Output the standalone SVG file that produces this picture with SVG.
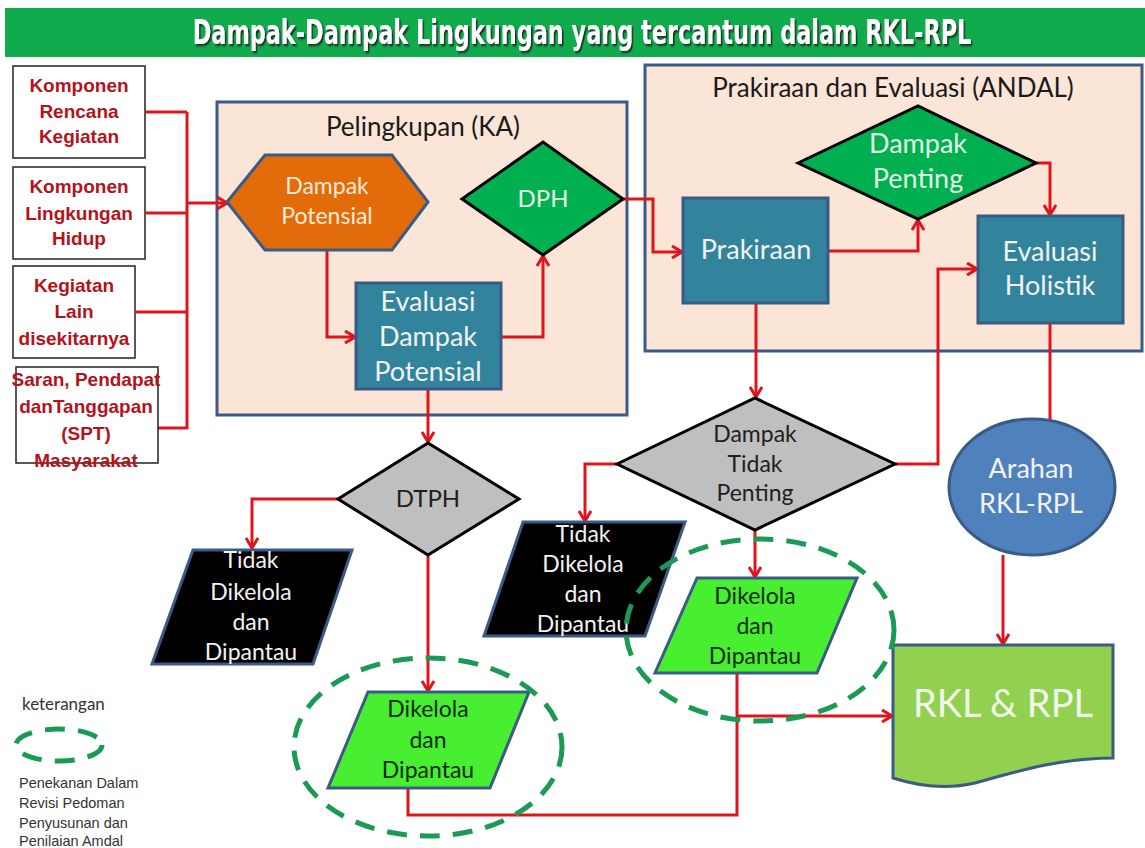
<svg xmlns="http://www.w3.org/2000/svg" width="1145" height="848" viewBox="0 0 1145 848">
<defs>
<marker id="arr" viewBox="0 0 12 14" refX="11" refY="7" markerWidth="12" markerHeight="14" markerUnits="userSpaceOnUse" orient="auto">
<path d="M1,1 L11,7 L1,13" fill="none" stroke="#e0151c" stroke-width="3" stroke-linejoin="miter"/>
</marker>
<filter id="shadow" x="-5%" y="-30%" width="110%" height="160%">
<feDropShadow dx="2" dy="2" stdDeviation="0.8" flood-color="#1e1e1e" flood-opacity="0.9"/>
</filter>
<style>
.bg{fill:#ffffff}
.lbox{fill:#ffffff;stroke:#222;stroke-width:1.5}
.ltxt{font-family:"Liberation Sans",Arial,sans-serif;font-weight:bold;font-size:19px;fill:#b5121b;text-anchor:middle}
.sect{fill:#fbe5d6;stroke:#3b5a85;stroke-width:3}
.stitle{font-family:Lato,"Open Sans",sans-serif;font-size:26px;fill:#1a1a1a;text-anchor:middle}
.teal{fill:#31849b;stroke:#3b5a85;stroke-width:3}
.t{font-family:Lato,"Open Sans",sans-serif;font-size:24px;text-anchor:middle}
.s23{font-size:23px}
.s27{font-size:27px}
.w{fill:#f2f2f2}
.dk{fill:#1e1e1e}
.gdk{fill:#0e2a0e}
.con{fill:none;stroke:#e0151c;stroke-width:3}
.dash{fill:none;stroke:#1a9a55;stroke-width:5;stroke-dasharray:20 13}
.blk{fill:#000;stroke:#3b5a85;stroke-width:3}
.brg{fill:#48ee30;stroke:#3b5a85;stroke-width:3}
.gry{fill:#bfbfbf;stroke:#000;stroke-width:3}
.leg{font-family:"Liberation Sans",Arial,sans-serif;font-size:14.5px;fill:#333}
</style>
</defs>
<rect class="bg" x="0" y="0" width="1145" height="848"/>

<g id="title">
<rect x="5" y="8" width="1140" height="49" fill="#10ab4c"/>
<text transform="translate(582,44) scale(0.755,1)" x="0" y="0" text-anchor="middle" font-family="'Liberation Sans Narrow','DejaVu Sans Condensed',sans-serif" font-weight="bold" font-size="33" fill="#ffffff" filter="url(#shadow)">Dampak-Dampak Lingkungan yang tercantum dalam RKL-RPL</text>
</g>

<g id="sect-ka">
<rect class="sect" x="217" y="102" width="410" height="313"/>
<text class="stitle" x="423" y="136">Pelingkupan (KA)</text>
</g>
<g id="sect-andal">
<rect class="sect" x="645" y="65" width="497" height="286"/>
<text class="stitle" x="893" y="97">Prakiraan dan Evaluasi (ANDAL)</text>
</g>

<g id="connectors">
<path class="con" d="M146,112 H187"/>
<path class="con" d="M146,213 H187"/>
<path class="con" d="M136,312 H187"/>
<path class="con" d="M158,428 H187"/>
<path class="con" d="M187,112 V429"/>
<path class="con" d="M187,203 H227" marker-end="url(#arr)"/>
<path class="con" d="M327,250 V337 H355" marker-end="url(#arr)"/>
<path class="con" d="M501,337 H543 V256" marker-end="url(#arr)"/>
<path class="con" d="M623,199 H653 V252 H682" marker-end="url(#arr)"/>
<path class="con" d="M828,251 H918 V220" marker-end="url(#arr)"/>
<path class="con" d="M1036,163 H1050 V215" marker-end="url(#arr)"/>
<path class="con" d="M756,303 V397" marker-end="url(#arr)"/>
<path class="con" d="M895,464 H938 V269 H977" marker-end="url(#arr)"/>
<path class="con" d="M1050,323 V420"/>
<path class="con" d="M1003,555 V644" marker-end="url(#arr)"/>
<path class="con" d="M428,389 V442" marker-end="url(#arr)"/>
<path class="con" d="M338,499 H252 V548" marker-end="url(#arr)"/>
<path class="con" d="M428,555 V691" marker-end="url(#arr)"/>
<path class="con" d="M617,464 H585 V521" marker-end="url(#arr)"/>
<path class="con" d="M755,530 V577" marker-end="url(#arr)"/>
<path class="con" d="M408,788 V815 H737 V673"/>
<path class="con" d="M737,716 H892" marker-end="url(#arr)"/>
</g>

<g id="n-komponen-rencana">
<rect class="lbox" x="13" y="66" width="132" height="92"/>
<text class="ltxt" x="79" y="92">Komponen</text>
<text class="ltxt" x="79" y="118">Rencana</text>
<text class="ltxt" x="79" y="143">Kegiatan</text>
</g>
<g id="n-komponen-lingkungan">
<rect class="lbox" x="13" y="167" width="132" height="92"/>
<text class="ltxt" x="79" y="193">Komponen</text>
<text class="ltxt" x="79" y="220">Lingkungan</text>
<text class="ltxt" x="79" y="245">Hidup</text>
</g>
<g id="n-kegiatan-lain">
<rect class="lbox" x="13" y="266" width="122" height="92"/>
<text class="ltxt" x="74" y="292">Kegiatan</text>
<text class="ltxt" x="74" y="318">Lain</text>
<text class="ltxt" x="74" y="345">disekitarnya</text>
</g>
<g id="n-spt">
<rect class="lbox" x="16" y="367" width="142" height="96"/>
<text class="ltxt" x="86" y="386">Saran, Pendapat</text>
<text class="ltxt" x="86" y="413">danTanggapan</text>
<text class="ltxt" x="86" y="440">(SPT)</text>
<text class="ltxt" x="86" y="467">Masyarakat</text>
</g>

<g id="n-dampak-potensial">
<polygon points="227,202 265,155 392,155 428,202 392,250 265,250" fill="#e36c0a" stroke="#3b5a85" stroke-width="3"/>
<text class="t s23" x="327" y="194" fill="#fde9d9">Dampak</text>
<text class="t s23" x="327" y="224" fill="#fde9d9">Potensial</text>
</g>
<g id="n-dph">
<polygon points="462,199 543,142 623,199 543,255" fill="#00b050" stroke="#000" stroke-width="3"/>
<text class="t" x="543" y="207" fill="#e6f6e6">DPH</text>
</g>
<g id="n-evaluasi-dampak-potensial">
<rect class="teal" x="356" y="283" width="145" height="106"/>
<text class="t s27 w" x="428" y="311">Evaluasi</text>
<text class="t s27 w" x="428" y="346">Dampak</text>
<text class="t s27 w" x="428" y="381">Potensial</text>
</g>
<g id="n-prakiraan">
<rect class="teal" x="683" y="198" width="145" height="105"/>
<text class="t s27 w" x="756" y="259">Prakiraan</text>
</g>
<g id="n-dampak-penting">
<polygon points="798,163 918,106 1036,163 918,219" fill="#00b050" stroke="#000" stroke-width="3"/>
<text class="t s27" x="918" y="153" fill="#e6f6e6">Dampak</text>
<text class="t s27" x="918" y="188" fill="#e6f6e6">Penting</text>
</g>
<g id="n-evaluasi-holistik">
<rect class="teal" x="978" y="216" width="145" height="107"/>
<text class="t s27 w" x="1050" y="261">Evaluasi</text>
<text class="t s27 w" x="1050" y="295">Holistik</text>
</g>
<g id="n-dtph">
<polygon points="338,499 428,443 519,499 428,555" class="gry"/>
<text class="t dk" x="428" y="507">DTPH</text>
</g>
<g id="n-dampak-tidak-penting">
<polygon points="617,464 755,398 895,464 755,530" class="gry"/>
<text class="t s23 dk" x="755" y="442">Dampak</text>
<text class="t s23 dk" x="755" y="472">Tidak</text>
<text class="t s23 dk" x="755" y="501">Penting</text>
</g>
<g id="n-tidak-1">
<polygon points="193,550 352,550 313,664 152,664" class="blk"/>
<text class="t s23 w" x="251" y="568">Tidak</text>
<text class="t s23 w" x="251" y="600">Dikelola</text>
<text class="t s23 w" x="251" y="630">dan</text>
<text class="t s23 w" x="251" y="660">Dipantau</text>
</g>
<g id="n-dikelola-1">
<polygon points="368,692 529,692 490,788 328,788" class="brg"/>
<text class="t s23 gdk" x="428" y="717">Dikelola</text>
<text class="t s23 gdk" x="428" y="748">dan</text>
<text class="t s23 gdk" x="428" y="778">Dipantau</text>
</g>
<g id="n-tidak-2">
<polygon points="523,522 685,522 645,636 484,636" class="blk"/>
<text class="t s23 w" x="583" y="542">Tidak</text>
<text class="t s23 w" x="583" y="572">Dikelola</text>
<text class="t s23 w" x="583" y="602">dan</text>
<text class="t s23 w" x="583" y="632">Dipantau</text>
</g>
<g id="n-dikelola-2">
<polygon points="697,578 857,578 817,673 655,673" class="brg"/>
<text class="t s23 gdk" x="755" y="604">Dikelola</text>
<text class="t s23 gdk" x="755" y="634">dan</text>
<text class="t s23 gdk" x="755" y="664">Dipantau</text>
</g>
<g id="n-arahan">
<ellipse cx="1032" cy="487" rx="83" ry="68" fill="#4f81bd" stroke="#3b5a85" stroke-width="3"/>
<text class="t s27" x="1031" y="478" fill="#f2f2f2">Arahan</text>
<text class="t s27" x="1031" y="513" fill="#f2f2f2">RKL-RPL</text>
</g>
<g id="n-rkl-rpl">
<path d="M893,645 H1113 V758 C1060,758 1015,772 975,783 C945,790 918,786 893,778 Z" fill="#92d050" stroke="#3b5a85" stroke-width="3"/>
<text class="t" x="1003" y="717" style="font-size:38px" fill="#f2f8ea">RKL &amp; RPL</text>
</g>

<g id="highlights">
<ellipse class="dash" cx="428" cy="747" rx="134" ry="89"/>
<ellipse class="dash" cx="760" cy="630" rx="134" ry="91"/>
</g>

<g id="legend">
<text x="22" y="710" font-family="Lato,'Open Sans',sans-serif" font-size="17" fill="#333">keterangan</text>
<ellipse class="dash" cx="59" cy="745" rx="43" ry="16" stroke-width="4.5" stroke-dasharray="13 11"/>
<text class="leg" x="19" y="788">Penekanan Dalam</text>
<text class="leg" x="19" y="808">Revisi Pedoman</text>
<text class="leg" x="19" y="828">Penyusunan dan</text>
<text class="leg" x="19" y="846">Penilaian Amdal</text>
</g>
</svg>
